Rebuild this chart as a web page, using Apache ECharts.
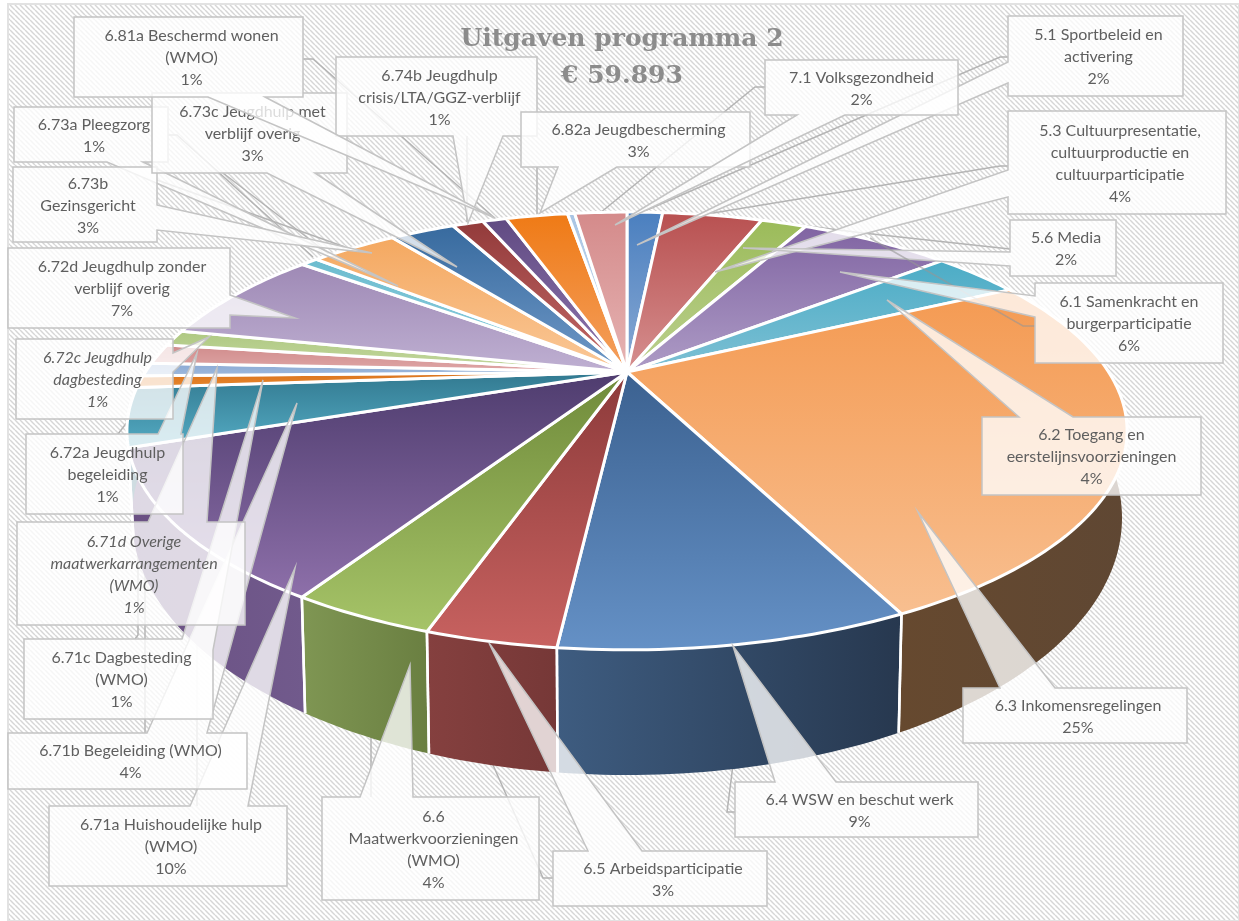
<!DOCTYPE html>
<html><head><meta charset="utf-8">
<style>html,body{margin:0;padding:0;background:#fff}#c{width:1239px;height:921px}#c canvas{filter:blur(0.55px)}</style>
<script src="https://cdn.jsdelivr.net/npm/echarts@6/dist/echarts.min.js"></script>
</head><body><div id="c"></div>
<script>
// ---------- data ----------
const categories = ['5.1 Sportbeleid en\nactivering','5.3 Cultuurpresentatie,\ncultuurproductie en\ncultuurparticipatie','5.6 Media','6.1 Samenkracht en\nburgerparticipatie','6.2 Toegang en\neerstelijnsvoorzieningen','6.3 Inkomensregelingen','6.4 WSW en beschut werk','6.5 Arbeidsparticipatie','6.6\nMaatwerkvoorzieningen\n(WMO)','6.71a Huishoudelijke hulp\n(WMO)','6.71b Begeleiding (WMO)','6.71c Dagbesteding\n(WMO)','6.71d Overige\nmaatwerkarrangementen\n(WMO)','6.72a Jeugdhulp\nbegeleiding','6.72c Jeugdhulp\ndagbesteding','6.72d Jeugdhulp zonder\nverblijf overig','6.73a Pleegzorg','6.73b\nGezinsgericht','6.73c Jeugdhulp met\nverblijf overig','6.74b Jeugdhulp\ncrisis/LTA/GGZ-verblijf','6.81a Beschermd wonen\n(WMO)','6.82a Jeugdbescherming','','7.1 Volksgezondheid'];
const sliceValues = [1.5,4.2,1.9,6.3,3.6,25.4,8.8,3.3,3.7,10.8,4.3,0.9,1.0,1.5,1.2,7.2,0.7,3.6,2.7,1.3,1.0,2.6,0.3,2.2];
const percentLabels = ['2%','4%','2%','6%','4%','25%','9%','3%','4%','10%','4%','1%','1%','1%','1%','7%','1%','3%','3%','1%','1%','3%','','2%'];
const italicLabels = ['6.71d Overige\nmaatwerkarrangementen\n(WMO)','6.72c Jeugdhulp\ndagbesteding'];
const titleText = 'Uitgaven programma 2\n€ 59.893';

// ---------- colours ----------
const topDark  = ['#4a7fbf','#b85050','#9bbb59','#8064a2','#4bacc6','#f49a52','#3b6190','#8c3a3a','#6f8a3a','#4e3c6e','#31788f','#d9701a','#89a8d4','#cf8a8a','#aec881','#9e89b5','#6cbccf','#f4a860','#376a9e','#923a3a','#604a82','#ef7a15','#a8c4e4','#d48a8a'];
const topLight = ['#8aaad4','#d69090','#bcd090','#ae9cc6','#7ec0d4','#f8bf90','#6591c6','#c86260','#a6c468','#8e70aa','#55acc4','#e88a30','#a0badc','#e0a8a8','#c4d8a0','#bfb0d2','#92d0e0','#fac898','#7099c8','#c56a68','#9078b0','#f4a060','#d0e0f0','#e6b4b4'];
const wallLeft  = ['#3a5f8c','#8a3c3c','#76903f','#604a7c','#2c6f85','#66492f','#3e5c80','#85403f','#7f9653','#6a5083','#2c6f85','#9a5a20','#3a5f8c','#8a3c3c','#76903f','#604a7c','#2c6f85','#9a5a20','#3a5f8c','#8a3c3c','#604a7c','#9a5a20','#3a5f8c','#8a3c3c'];
const wallRight = ['#2a4566','#6a2e2e','#5e7432','#4a3860','#20566a','#5f4733','#27384f','#763837','#6a7f41','#715a8c','#20566a','#7e4a1a','#2a4566','#6a2e2e','#5e7432','#4a3860','#20566a','#7e4a1a','#2a4566','#6a2e2e','#4a3860','#7e4a1a','#2a4566','#6a2e2e'];

// ---------- projection of the tilted disc ----------
const discTop    = {cx:627, cy:372,   a:481.6, b:203,   k:0.2694};
const discBottom = {cx:627, cy:448.7, a:476.7, b:238.4, k:0.2694};
function project(deg, d){
  const t = deg*Math.PI/180, u = Math.sin(t), v = -Math.cos(t), w = 1-d.k*v;
  return [d.cx + d.a*u/w, d.cy + d.b*v/w];
}
function arcPoints(from, to, d){
  const pts = [], n = Math.max(2, Math.ceil((to-from)/1));
  for(let i=0;i<=n;i++) pts.push(project(from+(to-from)*i/n, d));
  return pts;
}

// ---------- callout layout: box [x,y,w,h], wedge base a, b, tip, leader polyline ----------
const calloutLayout = [
 {box:[1008,16,175,80],  a:[1008,62], b:[1008,83], tip:[637,245], leader:[[1008,57],[1000,57],[640,213]]},
 {box:[1008,111,218,103],a:[1008,170],b:[1008,197],tip:[715,272], leader:[[1008,166],[1000,166],[707,214]]},
 {box:[1010,220,106,56], a:[1010,252],b:[1010,266],tip:[743,248], leader:[[1010,249],[863,233],[783,223]]},
 {box:[1035,283,188,80], a:[1035,296],b:[1035,317],tip:[840,272], over:[[1035,326],[1023,326],[870,238]], dx:0},
 {box:[982,417,219,78],  a:[1019,417],b:[1073,417],tip:[887,300], dx:0},
 {box:[963,688,224,55],  a:[1000,688],b:[1055,688],tip:[918,512]},
 {box:[735,782,243,55],  a:[775,782], b:[836,782], tip:[733,646], leader:[[735,812],[727,812],[733,765]]},
 {box:[553,851,214,55],  a:[588,851], b:[642,851], tip:[489,643], leader:[[553,878],[543,878],[493,765]]},
 {box:[322,797,217,103], a:[360,797], b:[413,797], tip:[410,665], leader:[[371,797],[371,735]]},
 {box:[49,806,238,80],   a:[190,806], b:[248,806], tip:[295,568], leader:[[197,806],[197,640]]},
 {box:[8,733,239,56],    a:[147,733], b:[207,733], tip:[297,403], leader:[[145,733],[145,527]]},
 {box:[24,639,189,80],   a:[182,639], b:[213,650], tip:[263,380], leader:[[135,639],[138,635],[138,500]]},
 {box:[17,522,228,103],  a:[148,522], b:[207,522], tip:[217,368]},
 {box:[26,434,157,80],   a:[158,434], b:[181,434], tip:[197,353], leader:[[118,434],[135,412]]},
 {box:[16,339,157,80],   a:[173,353], b:[173,372], tip:[209,337], leader:[[173,352],[177,350],[177,337]]},
 {box:[8,248,222,80],    a:[230,295], b:[230,315], tip:[295,318]},
 {box:[14,107,154,55],   a:[107,162], b:[143,162], tip:[398,286], leader:[[168,135],[177,135],[313,257]]},
 {box:[13,167,144,75],   a:[157,205], b:[157,230], tip:[372,253], leader:[[157,180],[345,247]]},
 {box:[152,93,195,80],   a:[267,173], b:[315,173], tip:[457,267], leader:[[223,173],[330,255]]},
 {box:[336,57,201,79],   a:[453,136], b:[503,136], tip:[468,223], leader:[[467,136],[467,224]]},
 {box:[74,17,229,80],    a:[208,97],  b:[265,97],  tip:[495,218], leader:[[303,59],[313,59],[497,220]]},
 {box:[521,112,229,55],  a:[558,167], b:[617,167], tip:[540,213], leader:[[537,167],[537,215]]},
 null,
 {box:[765,60,193,55],   a:[797,115], b:[845,115], tip:[615,225], leader:[[765,87],[755,87],[600,213]], dx:0}
];

function perimeterT(p, r){
  const [x,y,w,h] = r;
  if(Math.abs(p[1]-y)<1) return p[0]-x;
  if(Math.abs(p[0]-(x+w))<1) return w+(p[1]-y);
  if(Math.abs(p[1]-(y+h))<1) return w+h+(x+w-p[0]);
  return 2*w+h+(y+h-p[1]);
}
function calloutPolygon(c){
  const r = c.box, [x,y,w,h] = r, per = 2*(w+h);
  const corners = [[x,y,0],[x+w,y,w],[x+w,y+h,w+h],[x,y+h,2*w+h]];
  let a = c.a, b = c.b, ta = perimeterT(a,r), tb = perimeterT(b,r);
  if(((tb-ta+per)%per) > per/2){ [a,b]=[b,a]; [ta,tb]=[tb,ta]; }
  const pts = [a, c.tip, b];
  const rest = corners.map(k=>[k[0],k[1],(k[2]-tb+per)%per]).sort((m,n)=>m[2]-n[2]);
  const span = (ta-tb+per)%per;
  rest.forEach(k=>{ if(k[2]<span) pts.push([k[0],k[1]]); });
  return pts;
}

// ---------- slice table built from the values ----------
let run = 0;
const sliceRows = sliceValues.map((v,i)=>{ const s = run; run += v; return [s, run, i]; });
const total = run;
const calloutRows = calloutLayout.map((c,i)=>c?[i]:null).filter(Boolean);

// ---------- hatched backdrop ----------
const tile = document.createElement('canvas');
tile.width = tile.height = 5;
(function(){
  const g = tile.getContext('2d');
  g.fillStyle = '#ffffff'; g.fillRect(0,0,5,5);
  g.strokeStyle = '#d6d6d6'; g.lineWidth = 1.2;
  [[-5,-5,5,5],[0,-5,10,5],[-5,0,5,10],[0,0,5,5]].forEach(l=>{
    g.beginPath(); g.moveTo(l[0],l[1]); g.lineTo(l[2],l[3]); g.stroke();
  });
})();

const font = 'Lato, "Open Sans", sans-serif';
const chart = echarts.init(document.getElementById('c'), null, {renderer:'canvas'});
chart.setOption({
  animation:false,
  backgroundColor:'#ffffff',
  title:{text:titleText,left:617,top:16,textAlign:'center',
    textStyle:{fontFamily:'"DejaVu Serif"',fontWeight:'bold',fontSize:25,lineHeight:37,color:'#8c8c8c'}},
  graphic:{elements:[{type:'rect',z:0,silent:true,shape:{x:8,y:4,width:1231,height:917},
    style:{fill:{image:tile,repeat:'repeat'},stroke:'#e2e2e2',lineWidth:2}}]},
  series:[
    { // leader lines beneath the disc
      type:'custom',coordinateSystem:'none',silent:true,z:1,data:calloutRows,
      renderItem(p,api){
        const c = calloutLayout[api.value(0)];
        if(!c.leader) return {type:'group',children:[]};
        return {type:'polyline',shape:{points:c.leader},style:{fill:null,stroke:'#b4b4b4',lineWidth:1.5}};
      }
    },
    { // side walls
      type:'custom',coordinateSystem:'none',silent:true,z:2,data:sliceRows,
      renderItem(p,api){
        const i = api.value(2);
        const s = Math.max(api.value(0)/total*360,85), e = Math.min(api.value(1)/total*360,268);
        if(e<=s) return {type:'group',children:[]};
        const up = arcPoints(s,e,discTop), low = arcPoints(s,e,discBottom).reverse();
        return {type:'group',children:[
          {type:'polygon',shape:{points:up.concat(low)},z2:1,style:{
            fill:{type:'linear',x:0,y:0,x2:1,y2:0,colorStops:[{offset:0,color:wallLeft[i]},{offset:1,color:wallRight[i]}]}}},
          {type:'line',z2:2,shape:{x1:up[0][0],y1:up[0][1],x2:low[low.length-1][0],y2:low[low.length-1][1]},style:{stroke:'#fff',lineWidth:2.5}},
          {type:'line',z2:2,shape:{x1:up[up.length-1][0],y1:up[up.length-1][1],x2:low[0][0],y2:low[0][1]},style:{stroke:'#fff',lineWidth:2.5}}
        ]};
      }
    },
    { // top faces
      type:'custom',coordinateSystem:'none',silent:true,z:3,data:sliceRows,
      renderItem(p,api){
        const i = api.value(2);
        const s = api.value(0)/total*360, e = api.value(1)/total*360;
        const pts = [[discTop.cx,discTop.cy]].concat(arcPoints(s,e,discTop));
        return {type:'polygon',shape:{points:pts},style:{
          fill:{type:'linear',x:0,y:0,x2:0,y2:1,colorStops:[{offset:0,color:topDark[i]},{offset:1,color:topLight[i]}]},
          stroke:'#ffffff',lineWidth:3,lineJoin:'round'}};
      }
    },
    { // callouts with their texts
      type:'custom',coordinateSystem:'none',silent:true,z:7,data:calloutRows,
      renderItem(p,api){
        const i = api.value(0), c = calloutLayout[i], r = c.box;
        const dx = c.dx === undefined ? 3 : c.dx;
        const kids = [];
        if(c.over) kids.push({type:'polyline',shape:{points:c.over},style:{fill:null,stroke:'rgba(150,150,150,0.6)',lineWidth:1.5}});
        kids.push({type:'polygon',shape:{points:calloutPolygon(c)},style:{fill:'rgba(255,255,255,0.78)',stroke:'#c4c4c4',lineWidth:1.5}});
        kids.push({type:'text',style:{
          text:categories[i]+'\n'+percentLabels[i],x:r[0]+r[2]/2+dx,y:r[1]+r[3]/2+1,align:'center',verticalAlign:'middle',
          font:(italicLabels.includes(categories[i])?'italic ':'')+'16px '+font,lineHeight:22,fill:'#5f5f5f'}});
        return {type:'group',children:kids};
      }
    }
  ]
});
</script></body></html>
